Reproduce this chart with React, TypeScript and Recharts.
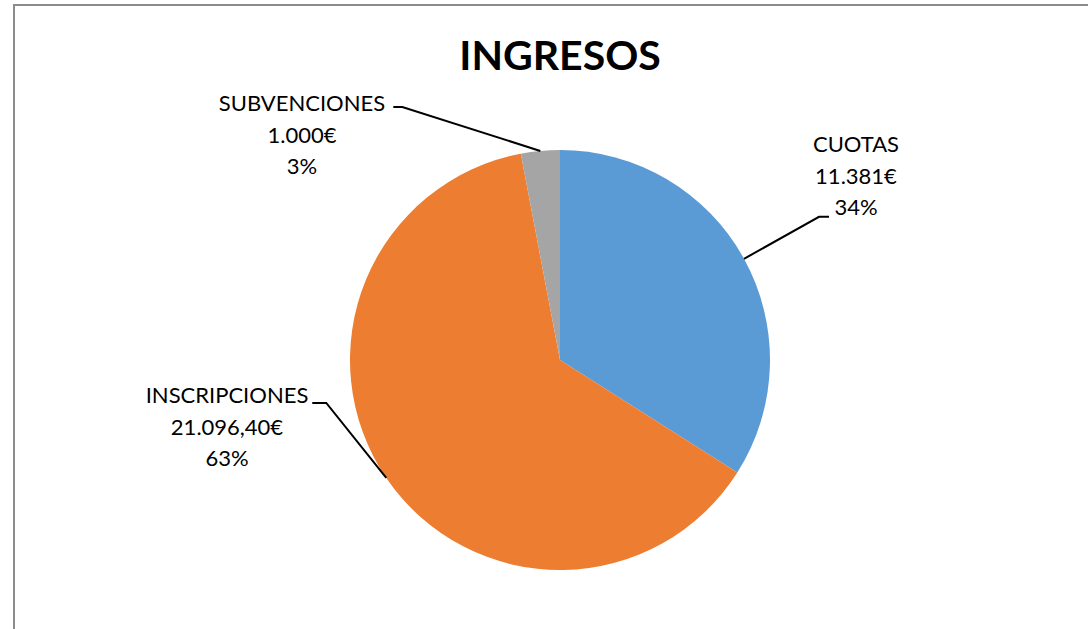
import { PieChart, Pie, Cell } from "recharts";

const categories = ["CUOTAS", "INSCRIPCIONES", "SUBVENCIONES"];
const amounts = [11381, 21096.4, 1000];
const amountLabels = ["11.381€", "21.096,40€", "1.000€"];
const percentLabels = ["34%", "63%", "3%"];
const colors = ["#5B9BD5", "#ED7D31", "#A5A5A5"];

// leader line layout per slice: elbow offset from slice edge, then short horizontal tail
const leaders = [
  { dx: 75, dy: -42, tail: 10, textX: 856, textY: 143 },
  { dx: -60, dy: -75, tail: -14, textX: 227, textY: 394 },
  { dx: -138, dy: -44, tail: -9, textX: 302, textY: 102 },
];

const data = categories.map((name, i) => ({
  name,
  value: amounts[i],
  amount: amountLabels[i],
  pct: percentLabels[i],
}));

const FONT = "Lato, 'Open Sans', sans-serif";
const RAD = Math.PI / 180;

function renderLabel(props: any) {
  const { cx, cy, midAngle, outerRadius, index } = props;
  const d = data[index];
  const l = leaders[index];
  const ex = cx + outerRadius * Math.cos(-midAngle * RAD);
  const ey = cy + outerRadius * Math.sin(-midAngle * RAD);
  const bx = ex + l.dx;
  const by = ey + l.dy;
  const tx = bx + l.tail;
  const x = l.textX + (cx - 560);
  const y = l.textY + (cy - 360);
  return (
    <g>
      <polyline
        points={`${ex},${ey} ${bx},${by} ${tx},${by}`}
        fill="none"
        stroke="#000"
        strokeWidth={2}
      />
      <text
        x={x}
        y={y}
        textAnchor="middle"
        dominantBaseline="central"
        fontFamily={FONT}
        fontSize={22}
        fill="#000"
      >
        <tspan x={x} dy={0}>{d.name}</tspan>
        <tspan x={x} dy={32}>{d.amount}</tspan>
        <tspan x={x} dy={31}>{d.pct}</tspan>
      </text>
    </g>
  );
}

export default function App() {
  return (
    <div
      style={{
        position: "fixed",
        left: 0,
        top: 0,
        width: 1088,
        height: 629,
        overflow: "hidden",
        background: "#fff",
      }}
    >
      <div
        style={{
          position: "absolute",
          left: 13,
          top: 4,
          width: 1100,
          height: 660,
          border: "2px solid #8c8c8c",
          boxSizing: "border-box",
        }}
      />
      <div
        style={{
          position: "absolute",
          left: 400,
          width: 320,
          top: 29,
          textAlign: "center",
          fontFamily: FONT,
          fontWeight: 700,
          fontSize: 41,
          lineHeight: "52px",
          color: "#000",
          whiteSpace: "nowrap",
        }}
      >
        INGRESOS
      </div>
      <div style={{ position: "absolute", left: 0, top: 0 }}>
        <PieChart
          width={1088}
          height={629}
          margin={{ top: 0, right: 0, bottom: 0, left: 0 }}
        >
          <Pie
            data={data}
            dataKey="value"
            nameKey="name"
            cx={560}
            cy={360}
            outerRadius={210}
            startAngle={90}
            endAngle={-270}
            stroke="none"
            label={renderLabel}
            labelLine={false}
            isAnimationActive={false}
          >
            {data.map((_, i) => (
              <Cell key={`cell-${i}`} fill={colors[i]} />
            ))}
          </Pie>
        </PieChart>
      </div>
    </div>
  );
}
